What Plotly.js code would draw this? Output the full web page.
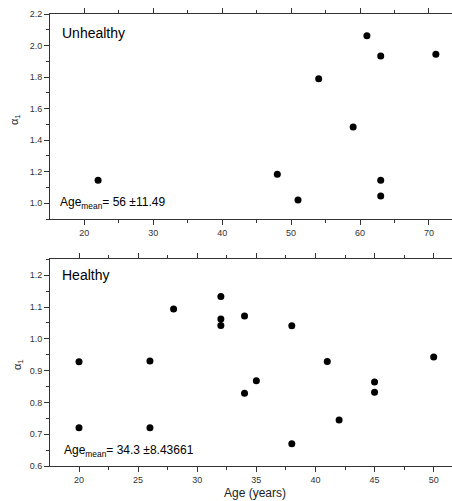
<!DOCTYPE html>
<html>
<head>
<meta charset="utf-8">
<script src="https://cdn.plot.ly/plotly-3.0.1.min.js"></script>
<style>html,body{margin:0;padding:0;background:#fff;}#chart{width:452px;height:501px;}</style>
</head>
<body>
<div id="chart"></div>
<script>
// Unhealthy group
const unhealthyAge   = [22, 48, 51, 54, 59, 61, 63, 63, 63, 71];
const unhealthyAlpha = [1.146, 1.184, 1.021, 1.789, 1.483, 2.062, 1.933, 1.146, 1.046, 1.944];
// Healthy group
const healthyAge   = [20, 20, 26, 26, 28, 32, 32, 32, 34, 34, 35, 38, 38, 41, 42, 45, 45, 50];
const healthyAlpha = [0.928, 0.720, 0.930, 0.720, 1.094, 1.133, 1.062, 1.042, 1.072, 0.829, 0.868, 1.041, 0.670, 0.929, 0.745, 0.864, 0.832, 0.943];

const panelLabels = ["Unhealthy", "Healthy"];
const meanLabels = ["Age<sub>mean</sub>= 56 ±11.49", "Age<sub>mean</sub>= 34.3 ±8.43661"];
const xTitle = "Age (years)";
const yTitle = "α<sub>1</sub>";

const H = 501, W = 452, L = 50;
const py = p => 1 - p / H;      // pixel y -> paper
const px = p => (p - L) / (W - L); // pixel x -> paper

const FAM = 'Liberation Sans, Arial, sans-serif';
const marker = {color: '#000', size: 7, symbol: 'circle'};
const traces = [
  {x: unhealthyAge, y: unhealthyAlpha, mode: 'markers', type: 'scatter', marker, xaxis: 'x', yaxis: 'y', hoverinfo: 'x+y'},
  {x: healthyAge, y: healthyAlpha, mode: 'markers', type: 'scatter', marker, xaxis: 'x2', yaxis: 'y2', hoverinfo: 'x+y'}
];

const tickFont = {family: FAM, size: 9, color: '#333'};
const axBase = {
  showgrid: false, zeroline: false, showline: true, linecolor: '#333', linewidth: 1,
  ticks: 'outside', ticklen: 5, tickwidth: 1, tickcolor: '#333', tickfont: tickFont
};

const layout = {
  width: W, height: H,
  margin: {l: L, r: 0, t: 0, b: 0},
  paper_bgcolor: '#fff', plot_bgcolor: '#fff',
  showlegend: false,
  xaxis: Object.assign({}, axBase, {
    domain: [0, 1], anchor: 'y', range: [15.025, 73.34], dtick: 10, tick0: 0, mirror: 'ticks',
    minor: {dtick: 5, ticks: 'outside', ticklen: 3, tickcolor: '#333'}
  }),
  yaxis: Object.assign({}, axBase, {
    domain: [py(219), py(14)], anchor: 'x', range: [0.9, 2.2], dtick: 0.2, tick0: 0, tickformat: '.1f',
    minor: {dtick: 0.1, ticks: 'outside', ticklen: 3, tickcolor: '#333'}
  }),
  xaxis2: Object.assign({}, axBase, {
    domain: [0, 1], anchor: 'y2', range: [17.547, 51.55], dtick: 5, tick0: 0, mirror: 'ticks',
    minor: {dtick: 2.5, ticks: 'outside', ticklen: 3, tickcolor: '#333'}
  }),
  yaxis2: Object.assign({}, axBase, {
    domain: [py(466), py(259.3)], anchor: 'x2', range: [0.6, 1.25], dtick: 0.1, tick0: 0, tickformat: '.1f',
    minor: {dtick: 0.05, ticks: 'outside', ticklen: 3, tickcolor: '#333'}
  }),
  annotations: [
    {text: panelLabels[0], xref: 'paper', yref: 'paper', x: px(60), y: py(33), xanchor: 'left', yanchor: 'middle', showarrow: false,
     font: {family: FAM, size: 14, color: '#000'}},
    {text: meanLabels[0], xref: 'paper', yref: 'paper', x: px(58), y: py(203), xanchor: 'left', yanchor: 'middle', showarrow: false,
     font: {family: FAM, size: 12, color: '#000'}},
    {text: panelLabels[1], xref: 'paper', yref: 'paper', x: px(60), y: py(275), xanchor: 'left', yanchor: 'middle', showarrow: false,
     font: {family: FAM, size: 14, color: '#000'}},
    {text: meanLabels[1], xref: 'paper', yref: 'paper', x: px(62), y: py(451), xanchor: 'left', yanchor: 'middle', showarrow: false,
     font: {family: FAM, size: 12, color: '#000'}},
    {text: yTitle, xref: 'paper', yref: 'paper', x: px(15), y: py(120), xanchor: 'center', yanchor: 'middle', textangle: -90, showarrow: false,
     font: {family: FAM, size: 11, color: '#222'}},
    {text: yTitle, xref: 'paper', yref: 'paper', x: px(18), y: py(365), xanchor: 'center', yanchor: 'middle', textangle: -90, showarrow: false,
     font: {family: FAM, size: 11, color: '#222'}},
    {text: xTitle, xref: 'paper', yref: 'paper', x: px(255), y: py(493), xanchor: 'center', yanchor: 'middle', showarrow: false,
     font: {family: FAM, size: 12, color: '#222'}}
  ]
};

Plotly.newPlot('chart', traces, layout, {displayModeBar: false, staticPlot: true});
</script>
</body>
</html>
